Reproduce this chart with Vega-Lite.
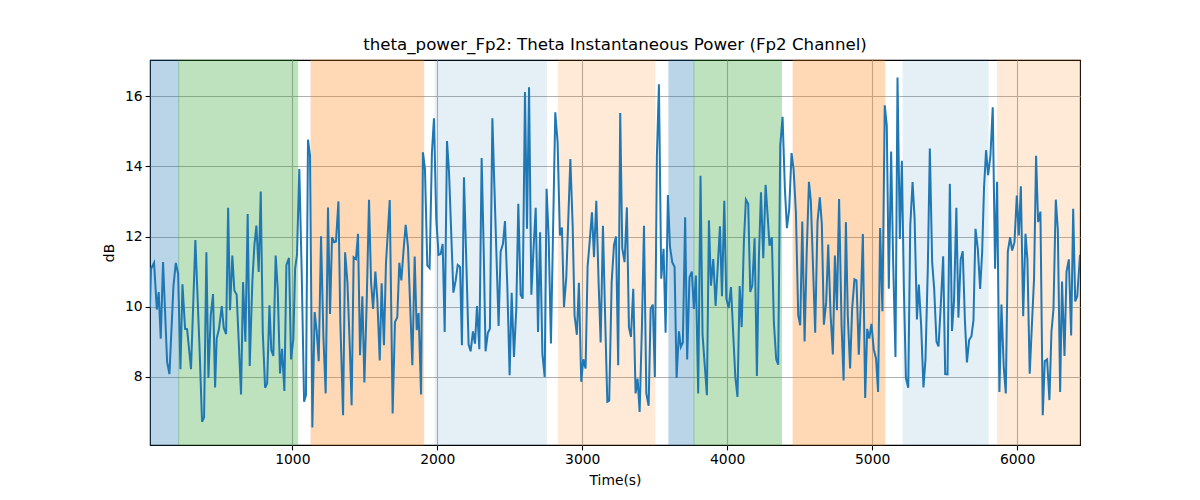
{
  "$schema": "https://vega.github.io/schema/vega-lite/v6.json",
  "width": 930,
  "height": 385,
  "autosize": {"type": "none"},
  "padding": {"left": 150, "top": 60, "right": 120, "bottom": 55},
  "background": "white",
  "title": {"text": "theta_power_Fp2: Theta Instantaneous Power (Fp2 Channel)", "font": "DejaVu Sans", "fontSize": 16.67, "fontWeight": "normal", "color": "black", "anchor": "middle", "offset": 6},
  "config": {
    "view": {"stroke": "black", "strokeWidth": 1.1},
    "axis": {"domain": false, "tickColor": "black", "tickSize": 4.9, "tickWidth": 1.1, "labelFont": "DejaVu Sans", "labelFontSize": 13.89, "labelColor": "black", "titleFont": "DejaVu Sans", "titleFontSize": 13.89, "titleFontWeight": "normal", "titleColor": "black", "gridColor": "#b0b0b0", "gridWidth": 1.1, "gridOpacity": 1}
  },
  "datasets": {
    "spans": [
      {"start": 18, "end": 216, "state": "s1"},
      {"start": 216, "end": 1037, "state": "s2"},
      {"start": 1129, "end": 1906, "state": "s3"},
      {"start": 1985, "end": 2754, "state": "s4"},
      {"start": 2835, "end": 3501, "state": "s5"},
      {"start": 3598, "end": 3771, "state": "s1"},
      {"start": 3771, "end": 4375, "state": "s2"},
      {"start": 4455, "end": 5087, "state": "s3"},
      {"start": 5214, "end": 5800, "state": "s4"},
      {"start": 5865, "end": 6434, "state": "s5"}
    ],
    "series": [
      {"t": 18, "v": 10.0}, {"t": 25, "v": 11.08}, {"t": 46, "v": 11.25}, {"t": 65, "v": 9.92}, {"t": 78, "v": 10.42}, {"t": 92, "v": 9.09}, {"t": 108, "v": 11.27}, {"t": 136, "v": 8.43}, {"t": 152, "v": 8.08}, {"t": 180, "v": 10.6}, {"t": 196, "v": 11.25}, {"t": 212, "v": 10.94}, {"t": 228, "v": 8.22}, {"t": 242, "v": 10.64}, {"t": 260, "v": 9.37}, {"t": 274, "v": 9.36}, {"t": 301, "v": 8.22}, {"t": 331, "v": 11.9}, {"t": 359, "v": 8.9}, {"t": 377, "v": 6.72}, {"t": 391, "v": 6.84}, {"t": 407, "v": 11.55}, {"t": 421, "v": 7.97}, {"t": 437, "v": 9.75}, {"t": 453, "v": 10.36}, {"t": 467, "v": 7.7}, {"t": 478, "v": 9.09}, {"t": 494, "v": 9.37}, {"t": 513, "v": 10.02}, {"t": 527, "v": 9.39}, {"t": 543, "v": 9.22}, {"t": 557, "v": 12.82}, {"t": 570, "v": 9.9}, {"t": 586, "v": 11.46}, {"t": 600, "v": 10.46}, {"t": 616, "v": 10.34}, {"t": 646, "v": 7.5}, {"t": 660, "v": 10.7}, {"t": 676, "v": 9.0}, {"t": 692, "v": 12.64}, {"t": 706, "v": 8.31}, {"t": 724, "v": 10.7}, {"t": 738, "v": 11.74}, {"t": 752, "v": 12.31}, {"t": 768, "v": 10.99}, {"t": 782, "v": 13.28}, {"t": 796, "v": 9.28}, {"t": 812, "v": 7.69}, {"t": 826, "v": 7.81}, {"t": 842, "v": 10.04},
      {"t": 855, "v": 8.76}, {"t": 869, "v": 8.6}, {"t": 885, "v": 11.46}, {"t": 899, "v": 10.51}, {"t": 915, "v": 8.1}, {"t": 929, "v": 8.8}, {"t": 945, "v": 7.6}, {"t": 959, "v": 11.19}, {"t": 977, "v": 11.39}, {"t": 991, "v": 8.5}, {"t": 1007, "v": 9.09}, {"t": 1019, "v": 11.08}, {"t": 1032, "v": 11.48}, {"t": 1048, "v": 13.92}, {"t": 1065, "v": 10.89}, {"t": 1081, "v": 7.29}, {"t": 1094, "v": 7.48}, {"t": 1108, "v": 14.76}, {"t": 1122, "v": 14.3}, {"t": 1138, "v": 6.56}, {"t": 1154, "v": 9.85}, {"t": 1168, "v": 9.3}, {"t": 1182, "v": 8.45}, {"t": 1198, "v": 12.01}, {"t": 1214, "v": 9.18}, {"t": 1230, "v": 7.53}, {"t": 1246, "v": 12.83}, {"t": 1260, "v": 9.79}, {"t": 1274, "v": 11.98}, {"t": 1288, "v": 11.84}, {"t": 1301, "v": 11.86}, {"t": 1318, "v": 13.0}, {"t": 1331, "v": 9.56}, {"t": 1350, "v": 6.91}, {"t": 1364, "v": 11.55}, {"t": 1380, "v": 10.7}, {"t": 1396, "v": 8.9}, {"t": 1409, "v": 7.19}, {"t": 1423, "v": 11.41}, {"t": 1439, "v": 11.36}, {"t": 1453, "v": 12.08}, {"t": 1467, "v": 8.62}, {"t": 1483, "v": 10.3}, {"t": 1497, "v": 7.84}, {"t": 1513, "v": 10.13}, {"t": 1529, "v": 13.05}, {"t": 1543, "v": 10.7}, {"t": 1557, "v": 9.94}, {"t": 1573, "v": 11.0}, {"t": 1586, "v": 10.23}, {"t": 1603, "v": 8.47}, {"t": 1616, "v": 10.67}, {"t": 1632, "v": 8.9}, {"t": 1646, "v": 11.25},
      {"t": 1672, "v": 13.04}, {"t": 1692, "v": 6.96}, {"t": 1708, "v": 9.56}, {"t": 1724, "v": 9.7}, {"t": 1738, "v": 11.25}, {"t": 1752, "v": 10.75}, {"t": 1768, "v": 11.65}, {"t": 1782, "v": 12.33}, {"t": 1798, "v": 11.7}, {"t": 1828, "v": 8.33}, {"t": 1844, "v": 11.43}, {"t": 1858, "v": 9.33}, {"t": 1871, "v": 9.82}, {"t": 1888, "v": 7.5}, {"t": 1901, "v": 14.4}, {"t": 1915, "v": 13.92}, {"t": 1931, "v": 11.18}, {"t": 1947, "v": 11.1}, {"t": 1963, "v": 14.4}, {"t": 1977, "v": 15.37}, {"t": 1993, "v": 12.5}, {"t": 2009, "v": 11.48}, {"t": 2023, "v": 11.5}, {"t": 2037, "v": 11.79}, {"t": 2051, "v": 9.28}, {"t": 2067, "v": 14.72}, {"t": 2081, "v": 13.83}, {"t": 2111, "v": 10.4}, {"t": 2127, "v": 10.75}, {"t": 2141, "v": 11.19}, {"t": 2157, "v": 11.13}, {"t": 2170, "v": 8.9}, {"t": 2184, "v": 13.69}, {"t": 2200, "v": 11.32}, {"t": 2216, "v": 8.92}, {"t": 2230, "v": 8.73}, {"t": 2246, "v": 9.3}, {"t": 2260, "v": 8.95}, {"t": 2274, "v": 10.02}, {"t": 2290, "v": 8.79}, {"t": 2306, "v": 14.24}, {"t": 2320, "v": 11.65}, {"t": 2333, "v": 8.73}, {"t": 2349, "v": 9.26}, {"t": 2363, "v": 9.37}, {"t": 2380, "v": 15.37}, {"t": 2393, "v": 13.55}, {"t": 2423, "v": 9.45}, {"t": 2437, "v": 11.57}, {"t": 2453, "v": 11.79}, {"t": 2467, "v": 12.44},
      {"t": 2483, "v": 10.6}, {"t": 2499, "v": 8.05}, {"t": 2513, "v": 10.4}, {"t": 2529, "v": 8.57}, {"t": 2545, "v": 9.94}, {"t": 2559, "v": 12.93}, {"t": 2575, "v": 10.34}, {"t": 2589, "v": 10.23}, {"t": 2605, "v": 16.12}, {"t": 2619, "v": 12.22}, {"t": 2633, "v": 16.25}, {"t": 2649, "v": 10.34}, {"t": 2665, "v": 11.74}, {"t": 2679, "v": 12.82}, {"t": 2695, "v": 9.28}, {"t": 2709, "v": 12.12}, {"t": 2725, "v": 8.66}, {"t": 2741, "v": 8.0}, {"t": 2754, "v": 13.36}, {"t": 2768, "v": 12.03}, {"t": 2784, "v": 8.95}, {"t": 2814, "v": 15.54}, {"t": 2830, "v": 14.68}, {"t": 2846, "v": 12.03}, {"t": 2860, "v": 12.26}, {"t": 2874, "v": 9.99}, {"t": 2890, "v": 10.84}, {"t": 2918, "v": 14.21}, {"t": 2934, "v": 12.31}, {"t": 2947, "v": 9.75}, {"t": 2963, "v": 9.2}, {"t": 2977, "v": 10.68}, {"t": 2993, "v": 7.86}, {"t": 3007, "v": 8.5}, {"t": 3023, "v": 8.24}, {"t": 3037, "v": 11.15}, {"t": 3051, "v": 11.84}, {"t": 3067, "v": 12.69}, {"t": 3081, "v": 11.41}, {"t": 3097, "v": 13.02}, {"t": 3113, "v": 10.68}, {"t": 3127, "v": 8.98}, {"t": 3143, "v": 12.31}, {"t": 3157, "v": 9.85}, {"t": 3173, "v": 7.29}, {"t": 3186, "v": 7.32}, {"t": 3203, "v": 10.7}, {"t": 3219, "v": 11.76}, {"t": 3233, "v": 12.0}, {"t": 3248, "v": 8.33}, {"t": 3262, "v": 15.52}, {"t": 3276, "v": 11.67}, {"t": 3292, "v": 11.27}, {"t": 3308, "v": 12.83},
      {"t": 3322, "v": 9.42}, {"t": 3336, "v": 9.14}, {"t": 3352, "v": 10.51}, {"t": 3368, "v": 7.53}, {"t": 3382, "v": 7.95}, {"t": 3396, "v": 7.0}, {"t": 3412, "v": 9.47}, {"t": 3426, "v": 12.31}, {"t": 3442, "v": 7.53}, {"t": 3458, "v": 7.18}, {"t": 3472, "v": 9.94}, {"t": 3487, "v": 10.06}, {"t": 3501, "v": 8.0}, {"t": 3515, "v": 14.3}, {"t": 3529, "v": 16.34}, {"t": 3545, "v": 10.8}, {"t": 3561, "v": 11.65}, {"t": 3575, "v": 9.26}, {"t": 3591, "v": 13.18}, {"t": 3605, "v": 11.72}, {"t": 3621, "v": 11.27}, {"t": 3637, "v": 11.13}, {"t": 3651, "v": 7.97}, {"t": 3667, "v": 9.3}, {"t": 3680, "v": 8.85}, {"t": 3694, "v": 8.98}, {"t": 3710, "v": 12.55}, {"t": 3724, "v": 8.5}, {"t": 3740, "v": 10.84}, {"t": 3756, "v": 11.0}, {"t": 3770, "v": 9.94}, {"t": 3784, "v": 10.89}, {"t": 3800, "v": 7.53}, {"t": 3816, "v": 13.73}, {"t": 3830, "v": 9.2}, {"t": 3860, "v": 7.48}, {"t": 3874, "v": 12.46}, {"t": 3888, "v": 10.6}, {"t": 3904, "v": 11.36}, {"t": 3920, "v": 10.02}, {"t": 3934, "v": 11.08}, {"t": 3950, "v": 12.29}, {"t": 3964, "v": 10.3}, {"t": 3980, "v": 13.02}, {"t": 3994, "v": 10.23}, {"t": 4010, "v": 9.96}, {"t": 4026, "v": 10.56}, {"t": 4056, "v": 8.0}, {"t": 4071, "v": 7.43}, {"t": 4086, "v": 10.59}, {"t": 4100, "v": 9.42}, {"t": 4115, "v": 11.84}, {"t": 4129, "v": 13.05}, {"t": 4145, "v": 12.93},
      {"t": 4159, "v": 10.42}, {"t": 4173, "v": 10.6}, {"t": 4189, "v": 11.95}, {"t": 4205, "v": 8.03}, {"t": 4219, "v": 11.46}, {"t": 4233, "v": 13.26}, {"t": 4249, "v": 11.38}, {"t": 4265, "v": 13.47}, {"t": 4279, "v": 12.6}, {"t": 4292, "v": 11.74}, {"t": 4308, "v": 11.98}, {"t": 4322, "v": 9.56}, {"t": 4338, "v": 8.5}, {"t": 4352, "v": 8.35}, {"t": 4366, "v": 14.59}, {"t": 4382, "v": 15.41}, {"t": 4398, "v": 13.36}, {"t": 4412, "v": 12.24}, {"t": 4428, "v": 12.79}, {"t": 4444, "v": 14.38}, {"t": 4458, "v": 13.92}, {"t": 4474, "v": 12.69}, {"t": 4490, "v": 9.75}, {"t": 4504, "v": 9.47}, {"t": 4518, "v": 12.43}, {"t": 4534, "v": 9.01}, {"t": 4548, "v": 11.46}, {"t": 4564, "v": 13.56}, {"t": 4577, "v": 13.02}, {"t": 4593, "v": 11.03}, {"t": 4607, "v": 9.26}, {"t": 4623, "v": 12.41}, {"t": 4639, "v": 13.12}, {"t": 4653, "v": 12.36}, {"t": 4667, "v": 9.49}, {"t": 4683, "v": 10.13}, {"t": 4697, "v": 11.77}, {"t": 4713, "v": 9.8}, {"t": 4729, "v": 8.64}, {"t": 4743, "v": 11.46}, {"t": 4757, "v": 9.9}, {"t": 4772, "v": 13.07}, {"t": 4789, "v": 9.47}, {"t": 4803, "v": 7.9}, {"t": 4819, "v": 12.41}, {"t": 4832, "v": 9.75}, {"t": 4848, "v": 8.24}, {"t": 4862, "v": 9.94}, {"t": 4878, "v": 10.78}, {"t": 4892, "v": 10.75}, {"t": 4908, "v": 8.63}, {"t": 4922, "v": 10.13}, {"t": 4936, "v": 12.07}, {"t": 4952, "v": 7.4}, {"t": 4966, "v": 9.37}, {"t": 4980, "v": 9.09},
      {"t": 4995, "v": 9.51}, {"t": 5011, "v": 8.79}, {"t": 5027, "v": 8.52}, {"t": 5041, "v": 7.57}, {"t": 5055, "v": 12.24}, {"t": 5071, "v": 9.87}, {"t": 5087, "v": 15.74}, {"t": 5101, "v": 15.16}, {"t": 5115, "v": 10.51}, {"t": 5131, "v": 14.42}, {"t": 5145, "v": 11.27}, {"t": 5161, "v": 8.57}, {"t": 5175, "v": 16.53}, {"t": 5191, "v": 11.93}, {"t": 5205, "v": 14.16}, {"t": 5219, "v": 10.51}, {"t": 5233, "v": 7.97}, {"t": 5249, "v": 7.69}, {"t": 5263, "v": 12.31}, {"t": 5279, "v": 13.55}, {"t": 5293, "v": 12.5}, {"t": 5309, "v": 9.64}, {"t": 5322, "v": 10.63}, {"t": 5338, "v": 9.47}, {"t": 5354, "v": 7.7}, {"t": 5368, "v": 8.5}, {"t": 5384, "v": 11.08}, {"t": 5398, "v": 14.51}, {"t": 5414, "v": 11.27}, {"t": 5428, "v": 10.51}, {"t": 5444, "v": 9.0}, {"t": 5458, "v": 8.87}, {"t": 5474, "v": 10.08}, {"t": 5490, "v": 11.44}, {"t": 5504, "v": 8.08}, {"t": 5520, "v": 8.07}, {"t": 5536, "v": 13.5}, {"t": 5551, "v": 9.31}, {"t": 5565, "v": 10.18}, {"t": 5581, "v": 12.82}, {"t": 5595, "v": 9.69}, {"t": 5611, "v": 11.35}, {"t": 5625, "v": 11.58}, {"t": 5640, "v": 9.61}, {"t": 5654, "v": 8.41}, {"t": 5669, "v": 9.05}, {"t": 5685, "v": 9.16}, {"t": 5699, "v": 9.61}, {"t": 5713, "v": 12.22}, {"t": 5729, "v": 11.65}, {"t": 5745, "v": 10.51}, {"t": 5759, "v": 11.55}, {"t": 5772, "v": 13.4}, {"t": 5786, "v": 14.46},
      {"t": 5800, "v": 13.75}, {"t": 5816, "v": 14.3}, {"t": 5832, "v": 15.68}, {"t": 5848, "v": 11.08}, {"t": 5862, "v": 13.56}, {"t": 5878, "v": 7.57}, {"t": 5892, "v": 10.06}, {"t": 5908, "v": 8.28}, {"t": 5922, "v": 7.53}, {"t": 5936, "v": 11.57}, {"t": 5952, "v": 11.98}, {"t": 5966, "v": 11.6}, {"t": 5982, "v": 11.84}, {"t": 5998, "v": 13.17}, {"t": 6012, "v": 12.03}, {"t": 6026, "v": 13.43}, {"t": 6042, "v": 9.73}, {"t": 6058, "v": 12.08}, {"t": 6071, "v": 11.36}, {"t": 6087, "v": 8.09}, {"t": 6101, "v": 9.37}, {"t": 6117, "v": 10.8}, {"t": 6131, "v": 14.3}, {"t": 6145, "v": 12.41}, {"t": 6161, "v": 12.71}, {"t": 6177, "v": 6.91}, {"t": 6191, "v": 8.45}, {"t": 6207, "v": 8.5}, {"t": 6223, "v": 7.34}, {"t": 6237, "v": 9.28}, {"t": 6251, "v": 9.94}, {"t": 6267, "v": 13.05}, {"t": 6281, "v": 12.2}, {"t": 6297, "v": 7.57}, {"t": 6310, "v": 10.72}, {"t": 6327, "v": 8.6}, {"t": 6341, "v": 11.0}, {"t": 6357, "v": 11.35}, {"t": 6373, "v": 9.18}, {"t": 6387, "v": 12.79}, {"t": 6401, "v": 10.15}, {"t": 6415, "v": 10.3}, {"t": 6434, "v": 11.48}
    ]
  },
  "layer": [
    {
      "data": {"name": "spans"},
      "transform": [{"filter": "datum.state == 's1' || datum.state == 's2' || datum.state == 's3'"}],
      "mark": {"type": "rect", "strokeWidth": 1, "opacity": 0.3},
      "encoding": {
        "x": {"field": "start", "type": "quantitative", "scale": {"domain": [18, 6434], "nice": false, "zero": false}, "axis": {"values": [1000, 2000, 3000, 4000, 5000, 6000], "format": "d", "title": "Time(s)", "labelPadding": 3, "titlePadding": 7}},
        "x2": {"field": "end"},
        "color": {"field": "state", "type": "nominal", "scale": {"domain": ["s1", "s2", "s3", "s4", "s5"], "range": ["#1f77b4", "#2ca02c", "#ff7f0e", "#1f77b4", "#ff7f0e"]}, "legend": null},
        "stroke": {"field": "state", "type": "nominal", "scale": {"domain": ["s1", "s2", "s3", "s4", "s5"], "range": ["#1f77b4", "#2ca02c", "#ff7f0e", "#1f77b4", "#ff7f0e"]}, "legend": null}
      }
    },
    {
      "data": {"name": "spans"},
      "transform": [{"filter": "datum.state == 's4'"}],
      "mark": {"type": "rect", "strokeWidth": 1, "opacity": 0.11},
      "encoding": {
        "x": {"field": "start", "type": "quantitative"},
        "x2": {"field": "end"},
        "color": {"field": "state", "type": "nominal", "legend": null},
        "stroke": {"field": "state", "type": "nominal", "legend": null}
      }
    },
    {
      "data": {"name": "spans"},
      "transform": [{"filter": "datum.state == 's5'"}],
      "mark": {"type": "rect", "strokeWidth": 1, "opacity": 0.16},
      "encoding": {
        "x": {"field": "start", "type": "quantitative"},
        "x2": {"field": "end"},
        "color": {"field": "state", "type": "nominal", "legend": null},
        "stroke": {"field": "state", "type": "nominal", "legend": null}
      }
    },
    {
      "data": {"name": "series"},
      "mark": {"type": "line", "color": "#1f77b4", "strokeWidth": 2, "clip": true},
      "encoding": {
        "x": {"field": "t", "type": "quantitative"},
        "y": {"field": "v", "type": "quantitative", "scale": {"domain": [6.06, 17.03], "nice": false, "zero": false}, "axis": {"values": [8, 10, 12, 14, 16], "title": "dB", "labelPadding": 3, "titlePadding": 8}}
      }
    }
  ]
}
